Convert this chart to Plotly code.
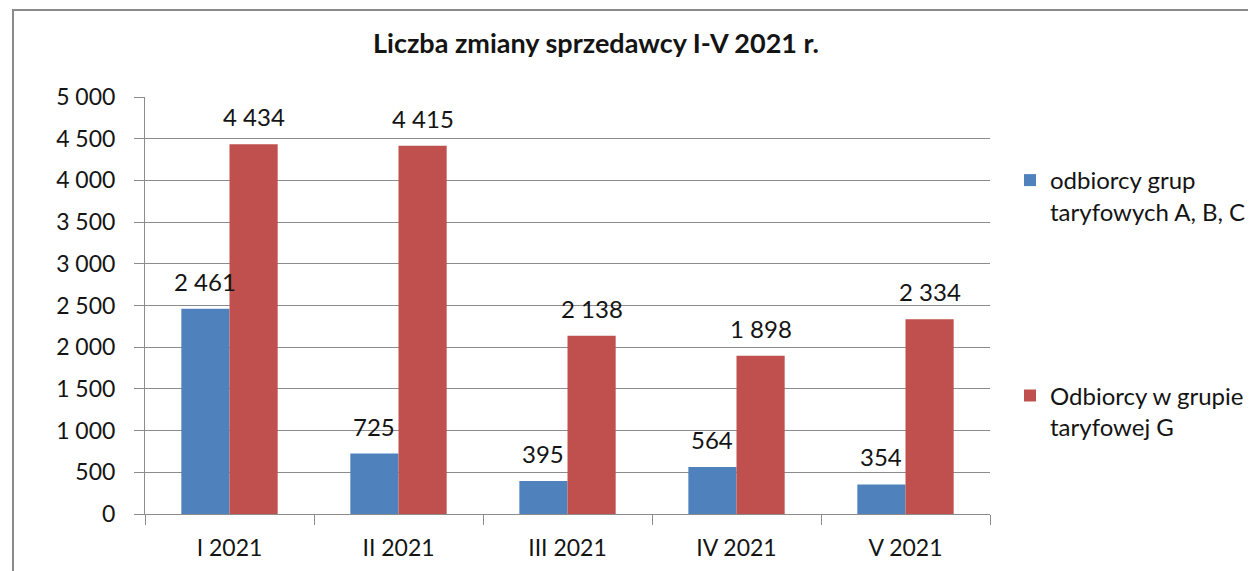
import plotly.graph_objects as go

categories = ["I 2021", "II 2021", "III 2021", "IV 2021", "V 2021"]
series_abc = [2461, 725, 395, 564, 354]
series_g = [4434, 4415, 2138, 1898, 2334]
name_abc = "odbiorcy grup<br>taryfowych A, B, C"
name_g = "Odbiorcy w grupie<br>taryfowej G"
y_ticks = [0, 500, 1000, 1500, 2000, 2500, 3000, 3500, 4000, 4500, 5000]
title_text = "Liczba zmiany sprzedawcy I-V 2021 r."

BLUE = "#4F81BD"
RED = "#C0504D"
GRID = "#8C8C8C"
FONT = "Lato"
TXT = "#141414"

OFF = 8  # page body margin
W, H = 1256 - OFF, 571 - OFF
ML, MT = 145 - OFF, 97 - OFF
PW, PH = 845, 417
MR = W - ML - PW
MB = H - MT - PH
BARGAP = 0.43
bar_px = PW / len(categories) * (1 - BARGAP) / 2


def fmt(v):
    return f"{v:,}".replace(",", " ")


def px_x(vx):
    return (vx - OFF - ML) / PW


def px_y(vy):
    return (MT + PH - (vy - OFF)) / PH


fig = go.Figure()
fig.add_trace(go.Bar(x=categories, y=series_abc, name=name_abc, marker_color=BLUE,
                     marker_line_width=0, legendgroup="a"))
fig.add_trace(go.Bar(x=categories, y=series_g, name=name_g, marker_color=RED,
                     marker_line_width=0, legendgroup="b"))

annotations = []
for vals, sh in ((series_abc, -bar_px / 2), (series_g, bar_px / 2)):
    for c, v in zip(categories, vals):
        annotations.append(dict(x=c, y=v, xref="x", yref="y", text=fmt(v), showarrow=False,
                                xshift=sh, yshift=11, yanchor="bottom",
                                font=dict(family=FONT, size=24, color=TXT)))

# outer chart border (decorative)
shapes = [dict(type="rect", xref="paper", yref="paper",
               x0=px_x(13), x1=px_x(1300), y0=px_y(620), y1=px_y(10),
               line=dict(color="#8a8a8a", width=2), fillcolor="rgba(0,0,0,0)", layer="below")]

fig.update_layout(
    width=W, height=H,
    margin=dict(l=ML, r=MR, t=MT, b=MB, autoexpand=False),
    paper_bgcolor="white", plot_bgcolor="white",
    barmode="group", bargap=BARGAP, bargroupgap=0,
    separators=", ",
    font=dict(family=FONT, size=23, color=TXT),
    title=dict(text="<b>" + title_text + "</b>", x=(596 - OFF) / W, xref="container",
               xanchor="center", y=1 - (44 - OFF) / H, yref="container", yanchor="middle",
               font=dict(family=FONT, size=27, color=TXT)),
    legend=dict(x=px_x(1010), xanchor="left", y=px_y(158), yanchor="top",
                valign="top", tracegroupgap=150, font=dict(family=FONT, size=24, color=TXT),
                bgcolor="rgba(0,0,0,0)", itemwidth=30),
    annotations=annotations,
    shapes=shapes,
    showlegend=True,
)
fig.update_xaxes(type="category", showline=True, linecolor=GRID, linewidth=1,
                 ticks="outside", tickson="boundaries", ticklen=10, tickcolor=GRID,
                 showgrid=False, ticklabelstandoff=13,
                 tickfont=dict(family=FONT, size=23, color=TXT))
fig.update_yaxes(range=[0, 5000], tickvals=y_ticks, ticktext=[fmt(v) for v in y_ticks],
                 showline=True, linecolor=GRID, linewidth=1, ticks="outside", ticklen=10,
                 tickcolor=GRID, showgrid=True, gridcolor=GRID, gridwidth=1, zeroline=False,
                 ticklabelstandoff=14, tickfont=dict(family=FONT, size=23, color=TXT))

fig.write_html("out.html")
